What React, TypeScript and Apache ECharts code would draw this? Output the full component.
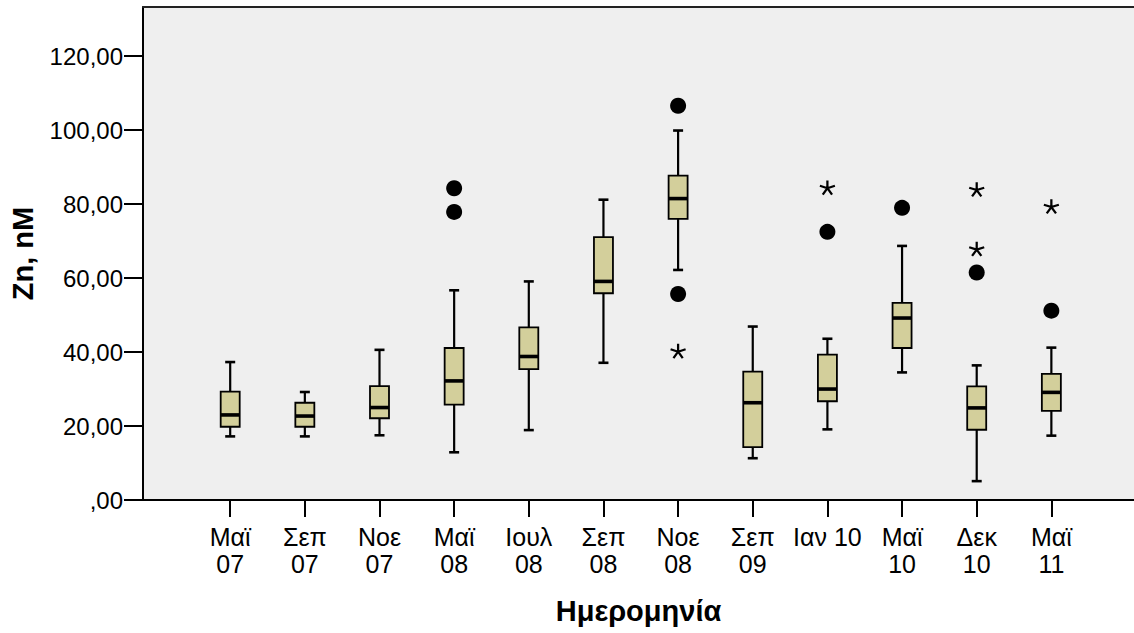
import React, { useEffect, useRef } from "react";
import * as echarts from "echarts";

// Sampling dates (x categories)
const categories: string[] = [
  "Μαϊ\n07", "Σεπ\n07", "Νοε\n07", "Μαϊ\n08", "Ιουλ\n08", "Σεπ\n08",
  "Νοε\n08", "Σεπ\n09", "Ιαν 10", "Μαϊ\n10", "Δεκ\n10", "Μαϊ\n11",
];

// Box statistics per date: [min whisker, Q1, median, Q3, max whisker] (Zn, nM)
const boxStats: number[][] = [
  [17.2, 19.8, 23.0, 29.3, 37.3],
  [17.2, 19.8, 22.7, 26.3, 29.2],
  [17.5, 22.1, 25.0, 30.8, 40.6],
  [12.9, 25.8, 32.2, 41.1, 56.7],
  [18.9, 35.4, 38.8, 46.7, 59.1],
  [37.1, 55.9, 59.1, 71.1, 81.2],
  [62.2, 76.0, 81.5, 87.7, 99.9],
  [11.3, 14.3, 26.3, 34.7, 46.9],
  [19.1, 26.7, 30.0, 39.3, 43.6],
  [34.5, 41.1, 49.2, 53.3, 68.7],
  [5.1, 19.0, 24.9, 30.7, 36.4],
  [17.4, 24.1, 29.1, 34.1, 41.2],
];

// Outliers: [category index, value]
const mildOutliers: number[][] = [
  [3, 84.3], [3, 77.9], [6, 106.6], [6, 55.7],
  [8, 72.5], [9, 79.0], [10, 61.5], [11, 51.2],
];
const extremeOutliers: number[][] = [
  [6, 40.3], [8, 84.5], [10, 84.0], [10, 67.9], [11, 79.4],
];

const yTicks: number[] = [0, 20, 40, 60, 80, 100, 120];

const FONT = "'Liberation Sans', Arial, sans-serif";
const X_MIN = -1.168;
const X_MAX = 12.107;
const Y_MAX = 133.3;

const asteriskPath =
  "path://M0,-10L0,0M9.51,-3.09L0,0M5.88,8.09L0,0M-5.88,8.09L0,0M-9.51,-3.09L0,0";

export default function App() {
  const ref = useRef<HTMLDivElement>(null);

  useEffect(() => {
    if (!ref.current) return;
    const chart = echarts.init(ref.current, null, { renderer: "svg" });

    const boxData = boxStats.map((s, i) => [i, ...s]);
    const idx = categories.map((_, i) => i);

    chart.setOption({
      animation: false,
      backgroundColor: "#ffffff",
      grid: {
        left: 142,
        right: 0,
        top: 7,
        bottom: 133,
        show: true,
        backgroundColor: "#efefef",
        borderWidth: 0,
      },
      xAxis: [
        {
          type: "value",
          min: X_MIN,
          max: X_MAX,
          position: "bottom",
          splitLine: { show: false },
          axisLine: { show: true, onZero: false, lineStyle: { color: "#000", width: 2 } },
          axisTick: {
            show: true,
            customValues: idx,
            length: 17,
            lineStyle: { color: "#000", width: 2 },
          },
          axisLabel: {
            customValues: idx,
            formatter: (v: number) => categories[Math.round(v)] ?? "",
            fontFamily: FONT,
            fontSize: 25,
            color: "#000",
            lineHeight: 27,
            margin: 23,
          },
          name: "Ημερομηνία",
          nameLocation: "middle",
          nameGap: 96,
          nameTextStyle: {
            fontFamily: FONT,
            fontSize: 29,
            fontWeight: "bold",
            color: "#000",
          },
        },
        {
          type: "value",
          min: X_MIN,
          max: X_MAX,
          position: "top",
          splitLine: { show: false },
          axisLine: { show: true, onZero: false, lineStyle: { color: "#222", width: 2 } },
          axisTick: { show: false },
          axisLabel: { show: false },
        },
      ],
      yAxis: {
        type: "value",
        min: 0,
        max: Y_MAX,
        splitLine: { show: false },
        axisLine: { show: true, onZero: false, lineStyle: { color: "#000", width: 2 } },
        axisTick: {
          show: true,
          customValues: yTicks,
          length: 19,
          lineStyle: { color: "#000", width: 2 },
        },
        axisLabel: {
          customValues: yTicks,
          formatter: (v: number) =>
            v === 0 ? ",00" : v.toFixed(2).replace(".", ","),
          fontFamily: FONT,
          fontSize: 24,
          color: "#000",
          margin: 20,
        },
        name: "Zn, nM",
        nameLocation: "middle",
        nameRotate: 90,
        nameGap: 106,
        nameTextStyle: {
          fontFamily: FONT,
          fontSize: 29,
          fontWeight: "bold",
          color: "#000",
        },
      },
      series: [
        {
          type: "custom",
          xAxisIndex: 0,
          data: boxData,
          encode: { x: 0, y: [1, 2, 3, 4, 5] },
          renderItem: (_params: any, api: any) => {
            const i = api.value(0);
            const cx = api.coord([i, api.value(1)])[0];
            const yMin = api.coord([i, api.value(1)])[1];
            const yQ1 = api.coord([i, api.value(2)])[1];
            const yMed = api.coord([i, api.value(3)])[1];
            const yQ3 = api.coord([i, api.value(4)])[1];
            const yMax = api.coord([i, api.value(5)])[1];
            const hw = 9.5;
            const cap = 5;
            const line = { stroke: "#000", lineWidth: 2.2 };
            return {
              type: "group",
              children: [
                { type: "line", shape: { x1: cx, y1: yQ1, x2: cx, y2: yMin }, style: line },
                { type: "line", shape: { x1: cx, y1: yQ3, x2: cx, y2: yMax }, style: line },
                { type: "line", shape: { x1: cx - cap, y1: yMin, x2: cx + cap, y2: yMin }, style: { stroke: "#000", lineWidth: 2.6 } },
                { type: "line", shape: { x1: cx - cap, y1: yMax, x2: cx + cap, y2: yMax }, style: { stroke: "#000", lineWidth: 2.6 } },
                {
                  type: "rect",
                  shape: { x: cx - hw, y: yQ3, width: hw * 2, height: yQ1 - yQ3 },
                  style: { fill: "#d3cf9b", stroke: "#000", lineWidth: 1.8 },
                },
                { type: "line", shape: { x1: cx - hw, y1: yMed, x2: cx + hw, y2: yMed }, style: { stroke: "#000", lineWidth: 3.6 } },
              ],
            };
          },
          z: 2,
        },
        {
          type: "scatter",
          xAxisIndex: 0,
          data: mildOutliers,
          symbol: "circle",
          symbolSize: 16,
          itemStyle: { color: "#000", opacity: 1 },
          z: 3,
        },
        {
          type: "scatter",
          xAxisIndex: 0,
          data: extremeOutliers,
          symbol: asteriskPath,
          symbolSize: [15, 14.2],
          itemStyle: { color: "rgba(0,0,0,0)", borderColor: "#000", borderWidth: 2.2, opacity: 1 },
          z: 3,
        },
      ],
    });

    return () => chart.dispose();
  }, []);

  return (
    <div
      ref={ref}
      style={{ position: "fixed", left: 0, top: 0, width: 1134, height: 633 }}
    />
  );
}
